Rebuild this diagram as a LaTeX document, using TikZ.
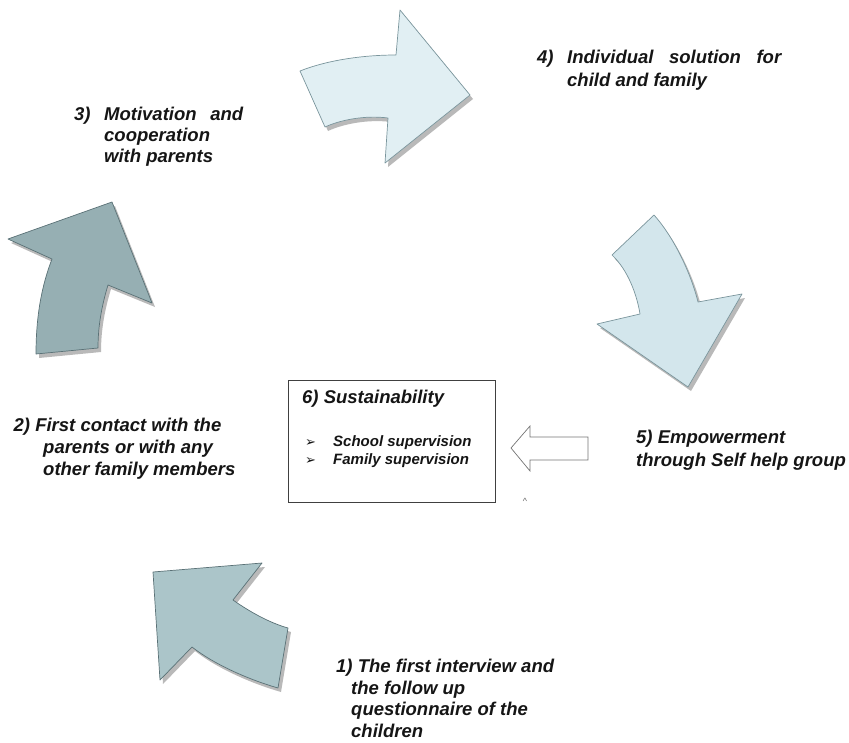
\documentclass[tikz,border=0pt]{standalone}
\usepackage{fontspec}
\setmainfont{Liberation Sans}
\newfontfamily\bulletfont{DejaVu Sans}
\usepackage{xcolor}
\usepackage{tikz}
\usetikzlibrary{arrows.meta}

\definecolor{textdark}{HTML}{151515}
\definecolor{shadowgray}{HTML}{A8A8A8}
\definecolor{edgelight}{HTML}{7A959C}
\definecolor{edgedark}{HTML}{5A7176}
\definecolor{fillpale}{HTML}{E1EFF3}
\definecolor{fillsky}{HTML}{D3E6EC}
\definecolor{fillslate}{HTML}{96AFB3}
\definecolor{fillsage}{HTML}{ABC5C9}

\begin{document}
\begin{tikzpicture}[x=1pt,y=-1pt,
    steptext/.style={anchor=base west,align=left,inner sep=0pt,text=textdark,
        font=\fontsize{18.5}{22}\selectfont\bfseries\itshape},
    arrowshadow/.style={fill=shadowgray,draw=none,opacity=0.8,
        transform canvas={shift={(3,4)}}},
    cyclearrow/.style={draw=edgelight,line width=0.7pt,line join=round,
        preaction={arrowshadow}}]
    \useasboundingbox (0,0) rectangle (849,742);

    % Cycle arrows
    \filldraw[cyclearrow,fill=fillpale] (300,71) .. controls (325,61) and (360,55) .. (396,55)
        -- (400,10) -- (470,95) -- (385,163) -- (388,118)
        .. controls (365,115) and (340,120) .. (325,127) -- cycle;
    \filldraw[cyclearrow,fill=fillsky] (612,255) -- (654,215)
        .. controls (672,235) and (690,270) .. (698,302)
        -- (742,294) -- (688,387) -- (597,324) -- (640,314)
        .. controls (637,295) and (628,270) .. (612,255) -- cycle;
    \filldraw[cyclearrow,draw=edgedark,fill=fillsage] (153,572) -- (262,563) -- (233,600)
        .. controls (250,612) and (270,623) .. (288,628)
        -- (278,688) .. controls (250,680) and (215,665) .. (192,647)
        -- (160,680) -- cycle;
    \filldraw[cyclearrow,draw=edgedark,fill=fillslate] (112,202) -- (152,303) -- (108,285)
        .. controls (102,305) and (98,325) .. (98,348)
        -- (36,354) .. controls (36,315) and (42,285) .. (52,259)
        -- (8,239) -- cycle;

    % Step labels (anchored at the baseline of their last line)
    \node[steptext,font=\fontsize{18.5}{21}\selectfont\bfseries\itshape] (motivation) at (74,162)
        {\makebox[30pt][l]{3)}\makebox[139pt][s]{Motivation and}\\
         \hspace{30pt}cooperation\\ \hspace{30pt}with parents};
    \node[steptext,font=\fontsize{18.5}{23}\selectfont\bfseries\itshape] (solution) at (537,86)
        {\makebox[30pt][l]{4)}\makebox[214pt][s]{Individual solution for}\\
         \hspace{30pt}child and family};
    \node[steptext] (contact) at (13.5,475)
        {2) First contact with the\\ \hspace{29.5pt}parents or with any\\
         \hspace{29.5pt}other family members};
    \node[steptext,font=\fontsize{18.5}{23}\selectfont\bfseries\itshape] (empower) at (636,466)
        {5) Empowerment\\through Self help group};
    \node[steptext,font=\fontsize{18.5}{21.5}\selectfont\bfseries\itshape] (interview) at (336,737)
        {1) The first interview and\\ \hspace{15pt}the follow up\\
         \hspace{15pt}questionnaire of the\\ \hspace{15pt}children};

    % Sustainability box
    \node[draw=black!75,line width=0.8pt,minimum width=207pt,minimum height=122pt,
        inner sep=0pt] (sustain) at (391.5,441) {};
    \node[steptext] (sustaintitle) at (302,403) {6) Sustainability};
    \node[steptext,font=\fontsize{15}{18}\selectfont\bfseries\itshape] (sustainlist) at (305,464)
        {\makebox[28pt][l]{\bulletfont\fontsize{13}{18}\selectfont ➢}School supervision\\
         \makebox[28pt][l]{\bulletfont\fontsize{13}{18}\selectfont ➢}Family supervision};

    % Hollow arrow into the box
    \draw[draw=black!55,line width=0.7pt,line join=miter] (511,448) -- (530,426) -- (530,437)
        -- (588,437) -- (588,460) -- (530,460) -- (530,471) -- cycle;
    \node[inner sep=0pt,text=black!60,font=\fontsize{9}{9}\selectfont] (caret) at (525,501)
        {\textasciicircum};
\end{tikzpicture}
\end{document}
